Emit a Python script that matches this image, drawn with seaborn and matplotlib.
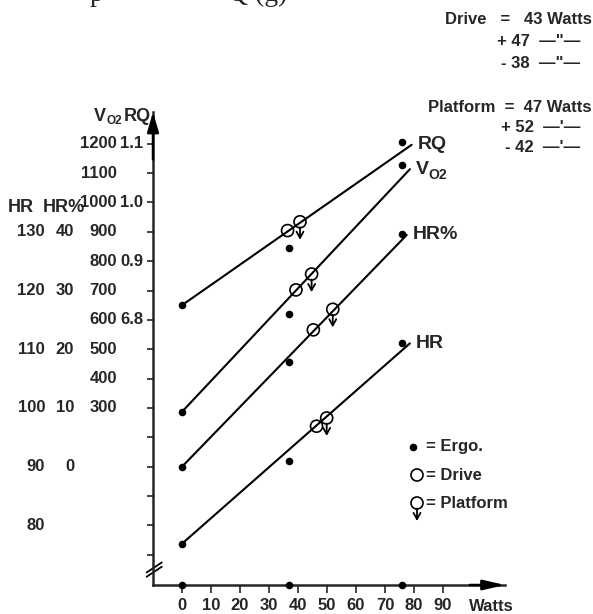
import matplotlib
matplotlib.use("Agg")
import matplotlib.pyplot as plt
import matplotlib.transforms as mtransforms
import numpy as np
import pandas as pd
import seaborn as sns

# ---------------- data ----------------
series = ["RQ", "VO2", "HR%", "HR"]

ergo_watts = [0, 37, 76]
rq_ergo = [0.825, 0.923, 1.103]
vo2_ergo = [287, 620, 1127]
hrp_ergo = [0.0, 17.9, 39.7]
hr_ergo = [76.9, 90.9, 111.0]

drive_watts = [36.4, 39.3, 45.3, 46.4]
drive_values = [0.952, 702, 23.3, 96.9]
platform_watts = [40.7, 44.7, 52.0, 49.9]
platform_values = [0.967, 756, 26.8, 98.3]

line_start_values = [0.825, 287, 0.0, 76.9]
line_end_watts = [79.2, 78.6, 77.5, 78.6]
line_end_values = [1.098, 1113, 39.45, 111.0]

x_ticks = [0, 10, 20, 30, 40, 50, 60, 70, 80, 90]
vo2_ticks = [1200, 1100, 1000, 900, 800, 700, 600, 500, 400, 300]
minor_ticks = [200, 100, 0, -100, -200]
rq_ticks = [1.1, 1.0, 0.9, 0.8]
rq_tick_labels = ["1.1", "1.0", "0.9", "6.8"]
hr_ticks = [130, 120, 110, 100, 90, 80]
hrp_ticks = [40, 30, 20, 10, 0]

series_labels = ["RQ", "V", "HR%", "HR"]
series_subs = ["", "O2", "", ""]


# common plotting scale = VO2 units
def to_axis(name, v):
    v = np.asarray(v, dtype=float)
    if name == "RQ":
        return 1000 + (v - 1.0) * 2000
    if name == "VO2":
        return v
    if name == "HR%":
        return 100 + v * 20
    return 300 + (v - 100) * 20


ergo_sets = [rq_ergo, vo2_ergo, hrp_ergo, hr_ergo]
df_ergo = pd.DataFrame([
    dict(series=s, watts=w, axis=float(to_axis(s, val)))
    for s, vals in zip(series, ergo_sets) for w, val in zip(ergo_watts, vals)
])
df_lines = pd.DataFrame([
    dict(series=s, watts=w, axis=float(to_axis(s, val)))
    for s, a, we, b in zip(series, line_start_values, line_end_watts, line_end_values)
    for w, val in ((0, a), (we, b))
])
df_drive = pd.DataFrame(dict(series=series, watts=drive_watts,
                             axis=[float(to_axis(s, v)) for s, v in zip(series, drive_values)]))
df_plat = pd.DataFrame(dict(series=series, watts=platform_watts,
                            axis=[float(to_axis(s, v)) for s, v in zip(series, platform_values)]))

# ---------------- style ----------------
sns.set_style("ticks")
FONT = "Liberation Sans"
plt.rcParams["font.family"] = [FONT, "DejaVu Sans"]
plt.rcParams["font.weight"] = "bold"
FS = 12

W, H = 593, 614
fig = plt.figure(figsize=(W / 100, H / 100), dpi=100)
ax_left, ax_right, ax_bottom, ax_top = 153, 505, 585, 112
ax = fig.add_axes([ax_left / W, (H - ax_bottom) / H, (ax_right - ax_left) / W, (ax_bottom - ax_top) / H])
ax.set_xlim(-10.0, 111.4)
ax.set_ylim(-302.6, 1307.7)

# lines
sns.lineplot(data=df_lines, x="watts", y="axis", units="series", estimator=None,
             color="black", linewidth=1.5, ax=ax, legend=False)
# ergo points
sns.scatterplot(data=df_ergo, x="watts", y="axis", color="black", s=30,
                linewidth=0, ax=ax, legend=False, zorder=4)
# drive / platform circles
ax.scatter(df_drive["watts"], df_drive["axis"], s=75, facecolors="none",
           edgecolors="black", linewidths=1.2, zorder=4)
ax.scatter(df_plat["watts"], df_plat["axis"], s=75, facecolors="none",
           edgecolors="black", linewidths=1.2, zorder=4)
for w, v in zip(df_plat["watts"], df_plat["axis"]):
    t_hi = mtransforms.offset_copy(ax.transData, fig=fig, x=0, y=-5.5, units="dots")
    t_lo = mtransforms.offset_copy(ax.transData, fig=fig, x=0, y=-18, units="dots")
    ax.annotate("", xy=(w, v), xycoords=t_lo, xytext=(w, v), textcoords=t_hi,
                arrowprops=dict(arrowstyle="->, head_length=0.45, head_width=0.25",
                                lw=1.3, color="black", shrinkA=0, shrinkB=0))

# ergo workloads on x axis
ax.scatter(ergo_watts, [0] * len(ergo_watts), s=30, color="black",
           transform=ax.get_xaxis_transform(), clip_on=False, zorder=5, linewidths=0)

# series labels (with optional subscript)
for s, lab, sub, we, b in zip(series, series_labels, series_subs, line_end_watts, line_end_values):
    y = float(to_axis(s, b))
    ax.text(we + 2.0, y, lab, ha="left", va="center", fontsize=FS + 2)
    if sub:
        tr = mtransforms.offset_copy(ax.transData, fig=fig, x=13, y=-6, units="dots")
        ax.text(we + 2.0, y, sub, ha="left", va="center", fontsize=FS - 2, transform=tr)

# ---------------- axes ----------------
for sp in ["top", "right"]:
    ax.spines[sp].set_visible(False)
ax.spines["left"].set_linewidth(1.8)
ax.spines["bottom"].set_linewidth(1.8)

ax.set_xticks(x_ticks)
ax.set_xticklabels([str(t) for t in x_ticks], fontsize=FS)
ax.tick_params(axis="x", direction="out", length=6, width=1.2, pad=3)
ax.set_yticks(vo2_ticks + minor_ticks)
ax.set_yticklabels([])
ax.tick_params(axis="y", direction="out", length=4.3, width=1.2)
ax.set_xlabel("")
ax.set_ylabel("")

ax.annotate("", xy=(1.0, 0), xytext=(0.9, 0), xycoords="axes fraction",
            arrowprops=dict(arrowstyle="-|>, head_length=1.3, head_width=0.3",
                            lw=1.8, color="black", shrinkA=0, shrinkB=0))
ax.annotate("", xy=(0, 1.0), xytext=(0, 0.9), xycoords="axes fraction",
            arrowprops=dict(arrowstyle="-|>, head_length=1.2, head_width=0.35",
                            lw=1.8, color="black", shrinkA=0, shrinkB=0))
ax.text(106.6, -0.045, "Watts", transform=ax.get_xaxis_transform(),
        ha="center", va="center", fontsize=FS)

# axis break on y
for dy in (0.0, 0.009):
    ax.plot([-0.018, 0.025], [0.0175 + dy, 0.0387 + dy], color="black", lw=1.3,
            transform=ax.transAxes, clip_on=False)

# y-axis tick label columns
yt = ax.get_yaxis_transform()
def fx(px):
    return (px - ax_left) / (ax_right - ax_left)

for v in vo2_ticks:
    ax.text(fx(117), v, str(v), transform=yt, ha="right", va="center", fontsize=FS)
for v, lab in zip(rq_ticks, rq_tick_labels):
    ax.text(fx(143), float(to_axis("RQ", v)), lab, transform=yt, ha="right", va="center", fontsize=FS)
for v in hr_ticks:
    ax.text(fx(45), float(to_axis("HR", v)), str(v), transform=yt, ha="right", va="center", fontsize=FS)
for v in hrp_ticks:
    ax.text(fx(74), float(to_axis("HR%", v)), str(v), transform=yt, ha="right", va="center", fontsize=FS)

ax.text(fx(8), 981, "HR", transform=yt, ha="left", va="center", fontsize=FS + 1)
ax.text(fx(43), 981, "HR%", transform=yt, ha="left", va="center", fontsize=FS + 1)
ax.text(fx(94), 1294, "V", transform=yt, ha="left", va="center", fontsize=FS + 1)
tr_sub = mtransforms.offset_copy(yt, fig=fig, x=12, y=-5, units="dots")
ax.text(fx(94), 1294, "O2", transform=tr_sub, ha="left", va="center", fontsize=FS - 3.5)
ax.text(fx(151), 1294, "RQ", transform=yt, ha="right", va="center", fontsize=FS + 1)

# legend (drawn glyphs)
def fy(py):
    return (ax_bottom - py) / (ax_bottom - ax_top)

ax.scatter([fx(413)], [fy(447)], s=30, color="black", transform=ax.transAxes, clip_on=False, linewidths=0)
ax.scatter([fx(417)], [fy(475)], s=75, facecolors="none", edgecolors="black", linewidths=1.2,
           transform=ax.transAxes, clip_on=False)
ax.scatter([fx(417)], [fy(503)], s=75, facecolors="none", edgecolors="black", linewidths=1.2,
           transform=ax.transAxes, clip_on=False)
t_hi = mtransforms.offset_copy(ax.transAxes, fig=fig, x=0, y=-5.5, units="dots")
t_lo = mtransforms.offset_copy(ax.transAxes, fig=fig, x=0, y=-18, units="dots")
ax.annotate("", xy=(fx(417), fy(503)), xycoords=t_lo, xytext=(fx(417), fy(503)), textcoords=t_hi,
            arrowprops=dict(arrowstyle="->, head_length=0.45, head_width=0.25",
                            lw=1.3, color="black", shrinkA=0, shrinkB=0))
ax.text(fx(426), fy(447), "= Ergo.", transform=ax.transAxes, ha="left", va="center", fontsize=FS)
ax.text(fx(426), fy(475), "= Drive", transform=ax.transAxes, ha="left", va="center", fontsize=FS)
ax.text(fx(426), fy(503), "= Platform", transform=ax.transAxes, ha="left", va="center", fontsize=FS)

# top-right notes
def ft(x, y, s, ha="right"):
    fig.text(x / W, 1 - y / H, s, ha=ha, va="center", fontsize=FS)

ft(592, 20, "Drive   =   43 Watts")
ft(580, 42, "+ 47  \u2014\"\u2014")
ft(580, 63, "- 38  \u2014\"\u2014")
ft(592, 108, "Platform  =  47 Watts")
ft(580, 127, "+ 52  \u2014'\u2014")
ft(580, 147, "- 42  \u2014'\u2014")

# clipped caption line from the page above
fig.text(90 / W, 1 - 1 / H, "p", family="Liberation Serif", fontsize=20, weight="normal",
         va="baseline", ha="left")
fig.text(228 / W, 1 - 1 / H, "Q (g)", family="Liberation Serif", fontsize=20, weight="normal",
         va="baseline", ha="left")

fig.savefig("out.png", dpi=100, facecolor="white")
